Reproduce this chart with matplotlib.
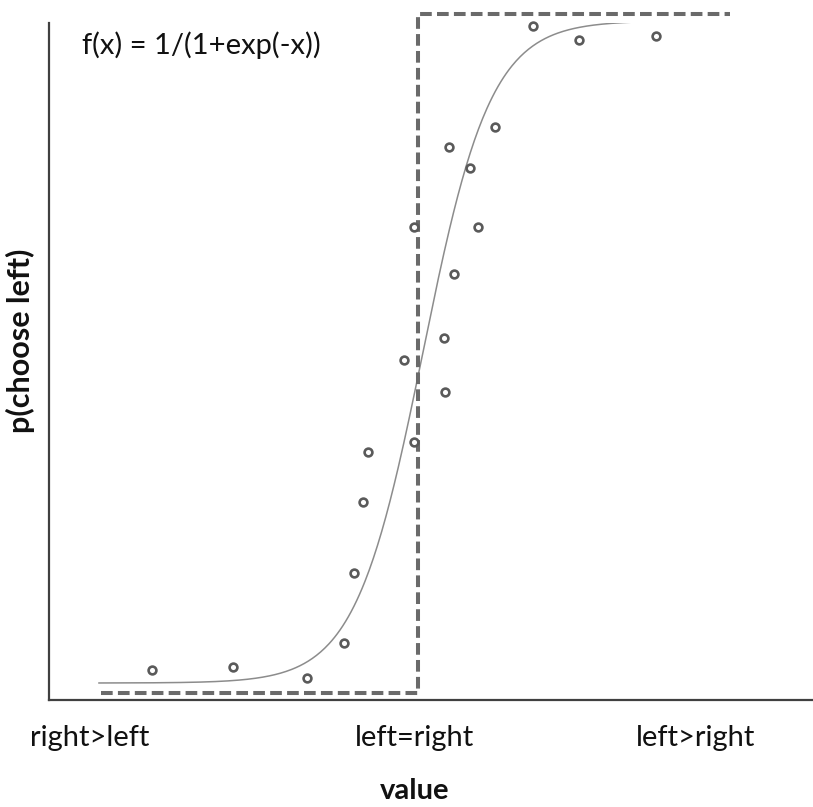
import matplotlib.pyplot as plt
import numpy as np

# stimulus value (units of the logistic) and observed p(choose left)
obs_x = [-7.82, -5.44, -3.26, -2.18, -1.88, -1.62, -1.47, -0.12, -0.41, 0.79,
         0.76, 1.06, -0.12, 1.76, 1.53, 0.91, 2.26, 3.38, 4.74, 7.00]
obs_y = [0.034, 0.038, 0.022, 0.074, 0.177, 0.281, 0.355, 0.370, 0.490, 0.443,
         0.523, 0.617, 0.686, 0.686, 0.773, 0.804, 0.834, 0.982, 0.962, 0.968]

# ideal (step) chooser
step_x = [-9.32, 0.0, 0.0, 9.18]
step_y = [0.0, 0.0, 1.0, 1.0]

# fitted logistic, drawn over this range
curve_range = (-9.38, 6.88)
curve_center = 0.15
curve_floor, curve_ceil = 0.0147, 0.99

tick_pos = [-9.65, -0.1, 8.18]
tick_labels = ["right>left", "left=right", "left>right"]

W, H = 813, 807
plt.rcParams["font.family"] = ["Lato", "DejaVu Sans"]

fig = plt.figure(figsize=(W / 100, H / 100), dpi=100)
ax = fig.add_axes([49 / W, 1 - 700 / H, (W - 49) / W, (700 - 23) / H])

xs = np.linspace(*curve_range, 400)
ys = curve_floor + (curve_ceil - curve_floor) / (1 + np.exp(-(xs - curve_center)))
ax.plot(xs, ys, color="#8c8c8c", lw=1.1)

ax.plot(step_x, step_y, color="#6a6a6a", lw=2.9, dashes=(2.9, 1.3), clip_on=False)

ax.plot(obs_x, obs_y, "o", ms=5.6, mfc="white", mec="#5a5a5a", mew=1.9,
        clip_on=False, zorder=3)

ax.set_xlim(-10.85, 11.62)
ax.set_ylim(-0.0103, 0.9867)

for side in ["top", "right"]:
    ax.spines[side].set_visible(False)
for side in ["left", "bottom"]:
    ax.spines[side].set_color("#404040")
    ax.spines[side].set_linewidth(1.6)

ax.set_yticks([])
ax.set_xticks(tick_pos)
ax.set_xticklabels(tick_labels, fontsize=21, color="#111111")
ax.tick_params(axis="x", length=0, pad=18)

fig.text(415 / W, 1 - 791 / H, "value", fontsize=21, fontweight="bold",
         ha="center", va="center", color="#111111")
fig.text(20 / W, 1 - 341 / H, "p(choose left)", fontsize=22, fontweight="bold",
         rotation=90, ha="center", va="center", color="#111111")
fig.text(82 / W, 1 - 45 / H, "f(x) = 1/(1+exp(-x))", fontsize=21,
         ha="left", va="center", color="#111111")

fig.savefig("out.png", dpi=100)
